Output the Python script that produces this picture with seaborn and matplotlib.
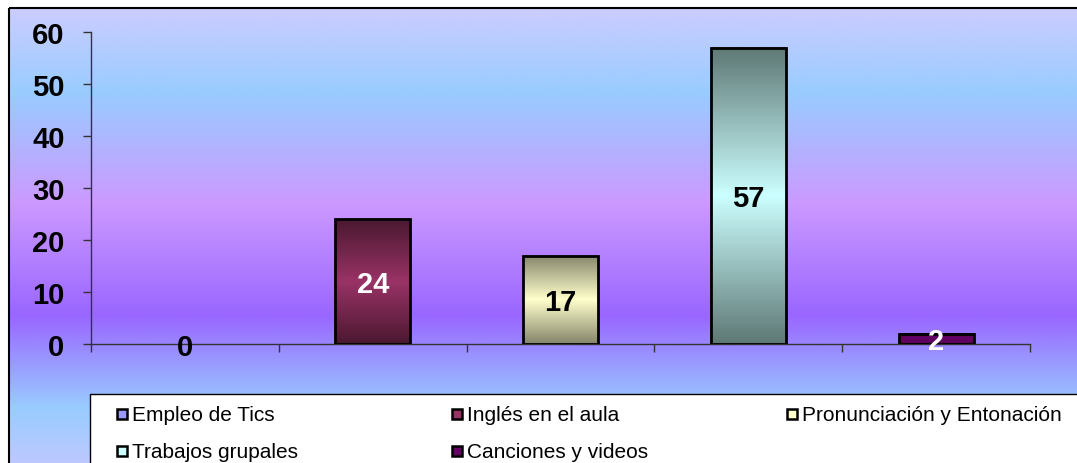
import numpy as np
import matplotlib
matplotlib.use('Agg')
from matplotlib import pyplot as plt
from matplotlib.colors import LinearSegmentedColormap
from matplotlib.patches import Rectangle
import seaborn as sns

categorias = ['Empleo de Tics', 'Inglés en el aula', 'Pronunciación y Entonación',
              'Trabajos grupales', 'Canciones y videos']
valores = [0, 24, 17, 57, 2]

# colour of each bar: (centre, edge) for the cylinder-like gradient
colores_centro = ['#9999ff', '#993366', '#ffffcc', '#ccffff', '#660066']
colores_borde = ['#5c5c99', '#4a1830', '#85856a', '#5e7875', '#550055']
color_etiqueta = ['black', 'white', 'black', 'black', 'white']

sns.set_theme(style='white')
plt.rcParams['font.family'] = ['Liberation Sans', 'DejaVu Sans']

W, H = 1077, 464
fig = plt.figure(figsize=(W / 100, H / 100), dpi=100)
fig.patch.set_facecolor('white')

# background gradient over the whole chart area
bg = fig.add_axes([0, 0, 1, 1], zorder=-1)
bg.set_xlim(0, W)
bg.set_ylim(H, 0)
bg.axis('off')
bg_cmap = LinearSegmentedColormap.from_list('bg', [
    (0.0, '#ccccff'), (0.18, '#99ccff'), (0.42, '#cc99ff'),
    (0.66, '#9966ff'), (0.86, '#99ccff'), (1.0, '#c4c8ff')])
grad = np.linspace(0, 1, 256).reshape(-1, 1)
bg.imshow(grad, cmap=bg_cmap, extent=[9, W + 20, 475, 9], aspect='auto', zorder=0)
bg.add_patch(Rectangle((9, 9), W + 20, 480, fill=False, edgecolor='black', lw=1.5, zorder=1))

# legend box
bg.add_patch(Rectangle((90, 395), W, 100, facecolor='white', edgecolor='black', lw=1, zorder=2))
leg_x = [117, 452, 787]
leg_y = [415, 452]
for i, nombre in enumerate(categorias):
    x0 = leg_x[i % 3]
    y0 = leg_y[i // 3]
    bg.add_patch(Rectangle((x0, y0 - 5), 10, 10, facecolor=colores_centro[i],
                           edgecolor='black', lw=1.8, zorder=3))
    bg.text(x0 + 15, y0 + 1, nombre, fontsize=15, va='center', ha='left',
            color='black', zorder=3)

ax = fig.add_axes([91 / W, 1 - 345 / H, (1030 - 91) / W, (345 - 33) / H])
ax.set_facecolor('none')
sns.barplot(x=categorias, y=valores, hue=categorias, palette=colores_centro,
            width=0.4, legend=False, ax=ax, zorder=3)

barras = sorted(ax.patches, key=lambda p: p.get_x())
for i, p in enumerate(barras):
    x, w, h = p.get_x(), p.get_width(), p.get_height()
    if h > 0:
        cm = LinearSegmentedColormap.from_list(
            'b%d' % i, [colores_borde[i], colores_centro[i], colores_borde[i]])
        ax.imshow(grad, cmap=cm, extent=[x, x + w, 0, h], aspect='auto', zorder=2)
        p.set_linewidth(2)
    else:
        p.set_linewidth(0)
    p.set_facecolor('none')
    p.set_edgecolor('black')
    p.set_zorder(3)
    ax.text(x + w / 2, h / 2 - 0.5, str(valores[i]), ha='center', va='center',
            fontsize=21, fontweight='bold', color=color_etiqueta[i], zorder=5,
            clip_on=False)

ax.set_xlim(-0.5, len(categorias) - 0.5)
ax.set_ylim(0, 60)
ax.set_yticks(range(0, 61, 10))
ax.set_xticks(np.arange(-0.5, len(categorias), 1.0))
ax.set_xticklabels([])
ax.set_xlabel('')
ax.set_ylabel('')
for s in ['top', 'right']:
    ax.spines[s].set_visible(False)
for s in ['left', 'bottom']:
    ax.spines[s].set_color('#333333')
    ax.spines[s].set_linewidth(1)
ax.tick_params(axis='y', length=6, width=1, color='#333333', pad=13,
               labelsize=21, labelcolor='black', direction='out', left=True)
ax.tick_params(axis='x', length=6, width=1, color='#333333', direction='out', bottom=True)
for t in ax.get_yticklabels():
    t.set_fontweight('bold')

fig.savefig('out.png', dpi=100)
